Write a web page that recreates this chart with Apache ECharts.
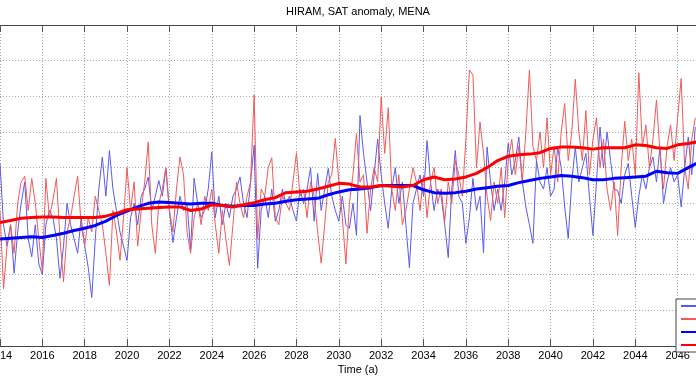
<!DOCTYPE html>
<html>
<head>
<meta charset="utf-8">
<script src="https://cdn.jsdelivr.net/npm/echarts@6/dist/echarts.min.js"></script>
<style>html,body{margin:0;padding:0;background:#fff}#c{width:696px;height:385px}</style>
</head>
<body>
<div id="c"></div>
<script>
// x-axis ticks (years)
const xTicks = [2014,2016,2018,2020,2022,2024,2026,2028,2030,2032,2034,2036,2038,2040,2042,2044,2046,2048];
// thin series: bi-monthly samples starting 2014.0, step 1/6 year
const thinStart = 2014;
const thinStep = 1/6;
const blueThin = [0.56,-0.3,-0.6,-0.3,-0.98,-0.4,0.0,0.3,-0.5,-0.75,-0.3,-0.85,-1.0,-0.3,-0.1,-0.2,-0.5,-1.05,-0.6,0.0,
-0.3,-0.5,-0.7,-0.2,-0.6,-0.9,-1.32,-0.5,0.2,0.65,0.1,0.74,0.2,-0.1,-0.4,-0.6,-0.8,-0.2,0.0,-0.3,
0.1,0.2,0.37,-0.1,0.1,0.32,0.1,0.49,-0.1,-0.55,-0.2,0.1,-0.1,0.0,-0.65,0.35,0.0,-0.2,-0.1,0.2,
0.72,-0.2,0.1,-0.3,0.0,-0.2,0.1,0.2,0.37,0.0,-0.2,0.3,0.81,-0.91,-0.1,0.1,-0.2,0.2,-0.25,-0.1,
0.2,0.0,0.1,-0.1,-0.25,0.2,0.0,0.2,0.5,-0.25,0.42,-0.1,0.2,0.49,0.1,-0.1,-0.25,0.1,-0.3,-0.35,
0.0,-0.45,1.23,0.7,0.3,-0.1,0.4,0.9,0.4,0.0,-0.35,0.2,0.5,0.0,0.3,-0.3,-0.9,0.0,0.2,0.4,
0.1,0.88,0.3,-0.1,0.2,0.1,-0.3,-0.76,0.2,0.74,0.1,0.0,-0.56,-0.2,0.35,-0.1,0.1,-0.69,0.79,0.3,
-0.1,0.2,-0.1,0.3,0.84,0.4,0.6,0.93,0.3,-0.05,-0.3,-0.56,0.6,0.3,0.2,0.5,0.1,0.2,0.79,0.5,
-0.05,-0.49,0.3,0.79,0.3,0.5,0.7,0.1,-0.45,0.3,1.07,0.5,1.0,0.6,0.2,0.18,0.0,0.4,0.56,0.1,
-0.34,0.1,0.4,0.2,0.5,0.65,0.3,0.79,0.0,0.3,0.5,0.3,0.4,-0.05,0.5,0.93,0.4,1.07];
const redThin = [-0.1,-1.2,-0.6,-0.3,-0.7,0.0,0.3,0.38,-0.1,0.35,0.0,-0.5,-0.95,0.35,-0.2,0.05,0.35,-0.5,-1.1,-0.4,
-0.2,0.1,0.38,-0.3,-0.6,-0.2,-0.4,0.1,-0.1,-0.3,-0.7,-1.15,-0.1,-0.4,-0.8,-0.2,0.5,-0.1,0.3,-0.6,
-0.1,0.3,0.86,-0.3,-0.7,0.0,0.2,0.5,-0.1,-0.4,0.2,0.65,0.4,-0.4,-0.7,-0.2,0.0,-0.3,0.1,-0.1,
0.2,-0.3,-0.7,-0.1,-0.5,-0.87,-0.3,0.3,0.0,-0.2,0.1,0.3,1.52,-0.5,0.2,0.1,0.5,0.64,-0.2,-0.3,
0.1,0.0,-0.1,0.3,0.71,0.1,0.2,-0.2,0.3,0.1,-0.4,-0.84,-0.3,0.3,0.4,0.91,0.3,-0.2,-0.85,0.0,
0.4,0.98,0.3,0.4,-0.42,0.2,0.5,0.3,1.49,0.7,1.34,0.2,-0.1,0.4,-0.3,-0.1,0.2,0.5,0.3,-0.1,
0.4,-0.2,0.3,0.5,0.0,0.2,-0.25,0.3,0.0,0.6,0.4,0.1,0.9,1.87,1.8,0.5,1.14,0.7,0.1,-0.24,
0.3,0.0,0.5,-0.2,0.6,0.9,0.4,0.8,0.3,1.0,1.87,0.8,0.6,1.0,0.5,1.2,0.4,0.8,0.3,1.0,
1.4,0.6,1.0,1.74,1.0,0.6,1.3,0.4,0.9,1.2,0.5,0.9,0.2,-0.1,0.3,-0.45,0.5,1.15,0.6,0.9,
0.4,1.83,0.8,1.1,0.5,0.9,1.45,0.7,0.2,0.8,1.1,0.6,1.2,1.75,0.5,0.2,0.9,1.2];
// thick series: running means, half-year samples from 2014.0
const meanYears = [2014,2014.5,2015,2015.5,2016,2016.5,2017,2017.5,2018,2018.5,2019,2019.5,2020,2020.5,2021,2021.5,2022,2022.5,2023,2023.5,
2024,2024.5,2025,2025.5,2026,2026.5,2027,2027.5,2028,2028.5,2029,2029.5,2030,2030.5,2031,2031.5,2032,2032.5,2033,2033.5,
2034,2034.5,2035,2035.5,2036,2036.5,2037,2037.5,2038,2038.5,2039,2039.5,2040,2040.5,2041,2041.5,2042,2042.5,2043,2043.5,
2044,2044.5,2045,2045.5,2046,2046.5,2046.9];
const blueMean = [-0.5,-0.49,-0.48,-0.47,-0.48,-0.45,-0.42,-0.38,-0.35,-0.31,-0.25,-0.17,-0.11,-0.05,0.0,0.02,0.01,0.0,-0.01,0.0,
0.0,-0.03,-0.04,-0.03,-0.03,-0.01,0.0,0.03,0.05,0.06,0.07,0.12,0.16,0.19,0.2,0.22,0.25,0.25,0.25,0.25,
0.19,0.15,0.14,0.15,0.17,0.2,0.22,0.24,0.25,0.29,0.32,0.35,0.37,0.39,0.38,0.36,0.33,0.33,0.35,0.36,
0.37,0.38,0.45,0.43,0.42,0.5,0.56];
const redMean = [-0.27,-0.24,-0.21,-0.2,-0.19,-0.19,-0.2,-0.2,-0.2,-0.2,-0.18,-0.14,-0.09,-0.08,-0.07,-0.06,-0.05,-0.05,-0.1,-0.08,
-0.02,-0.03,-0.05,-0.02,0.01,0.05,0.08,0.15,0.16,0.17,0.2,0.24,0.28,0.27,0.23,0.23,0.25,0.24,0.23,0.25,
0.33,0.37,0.33,0.34,0.37,0.42,0.5,0.6,0.66,0.68,0.69,0.71,0.77,0.79,0.79,0.78,0.76,0.78,0.78,0.78,
0.82,0.81,0.78,0.77,0.82,0.84,0.86];
const seriesNames = ['HIRAM RCP4.5','HIRAM RCP8.5','HIRAM RCP4.5, 5-yr mean','HIRAM RCP8.5, 5-yr mean'];

const thinPairs = arr => arr.map((v,i) => [thinStart + i*thinStep, v]);
const meanPairs = arr => arr.map((v,i) => [meanYears[i], v]);

const chart = echarts.init(document.getElementById('c'), null, {renderer:'canvas'});
const font = 'Liberation Sans, Arial, Helvetica, sans-serif';
chart.setOption({
  animation:false,
  backgroundColor:'#fff',
  grid:{left:0, width:720, top:25, bottom:39, outerBoundsMode:'none', containLabel:false},
  xAxis:[{
    type:'value', min:xTicks[0], max:xTicks[xTicks.length-1], interval:2,
    axisLine:{show:true, onZero:false, lineStyle:{color:'#444', width:1}},
    axisTick:{show:true, inside:true, length:7, lineStyle:{color:'#555'}},
    axisLabel:{show:true, color:'#000', fontSize:11, fontFamily:font, margin:4, formatter: v => String(v)},
    splitLine:{show:true, lineStyle:{color:'#aaa', type:[1,2], width:1}}
  },{
    type:'value', position:'top', min:xTicks[0], max:xTicks[xTicks.length-1], interval:2,
    axisLine:{show:true, onZero:false, lineStyle:{color:'#444', width:1}},
    axisTick:{show:true, inside:true, length:7, lineStyle:{color:'#555'}},
    axisLabel:{show:false}, splitLine:{show:false}
  }],
  yAxis:{
    type:'value', min:-2, max:2.5, interval:0.5,
    axisLine:{show:false}, axisTick:{show:false}, axisLabel:{show:false},
    splitLine:{show:true, lineStyle:{color:'#aaa', type:[1,2], width:1}}
  },
  legend:{
    orient:'vertical', left:676, top:299,
    backgroundColor:'#fff', borderColor:'#444', borderWidth:1,
    padding:[2,4,2,4], itemGap:3, itemWidth:26, itemHeight:8,
    itemStyle:{color:'rgba(0,0,0,0)', borderColor:'rgba(0,0,0,0)', borderWidth:0},
    textStyle:{fontSize:10, fontFamily:font, color:'#000'},
    data:seriesNames
  },
  graphic:[
    {type:'text', style:{text:'HIRAM, SAT anomaly, MENA', x:358, y:6, fill:'#000', font:'11px '+font, textAlign:'center'}},
    {type:'text', style:{text:'Time (a)', x:358, y:364, fill:'#000', font:'11px '+font, textAlign:'center'}}
  ],
  series:[
    {name:seriesNames[0], type:'line', showSymbol:false, symbol:'none', data:thinPairs(blueThin),
     lineStyle:{color:'#5a5af0', width:1}, itemStyle:{color:'#5a5af0'}},
    {name:seriesNames[1], type:'line', showSymbol:false, symbol:'none', data:thinPairs(redThin),
     lineStyle:{color:'#f05a5a', width:1}, itemStyle:{color:'#f05a5a'}},
    {name:seriesNames[2], type:'line', showSymbol:false, symbol:'none', data:meanPairs(blueMean),
     lineStyle:{color:'#0000ff', width:3}, itemStyle:{color:'#0000ff'}},
    {name:seriesNames[3], type:'line', showSymbol:false, symbol:'none', data:meanPairs(redMean),
     lineStyle:{color:'#ff0000', width:3}, itemStyle:{color:'#ff0000'}}
  ]
});
</script>
</body>
</html>
